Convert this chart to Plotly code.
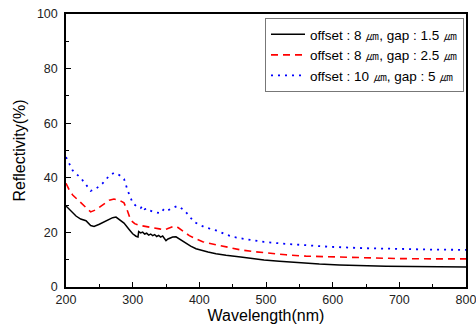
import plotly.graph_objects as go

wl_black = [200,205,210,215,222,230,237,242,250,260,270,275,280,287,295,300,305,308,309,312,315,318,321,324,327,330,333,336,339,342,345,348,350,353,356,360,365,370,375,380,387,395,405,413,425,440,462,480,497,520,548,580,610,647,680,720,760,800]
r_black = [29.7,28.5,27.2,26.0,24.9,24.3,22.5,22.2,23.0,24.2,25.4,25.6,24.8,23.4,21.0,19.5,18.6,18.3,20.3,19.8,20.1,19.4,19.7,19.0,19.4,18.8,19.2,18.5,18.9,18.3,18.7,17.4,17.0,17.6,17.9,18.3,18.4,17.6,16.8,16.0,15.0,14.0,13.2,12.8,12.2,11.6,11.0,10.4,9.9,9.4,8.9,8.4,8.1,7.8,7.6,7.5,7.4,7.3]

wl_red = [200,205,210,220,230,237,245,255,265,272,280,287,292,297,303,308,315,322,330,340,347,352,358,362,368,377,385,395,405,413,430,447,462,480,497,530,560,597,640,700,750,800]
r_red = [38.0,35.5,33.7,31.5,29.0,27.5,28.3,30.0,31.8,32.2,31.8,30.8,28.0,24.5,23.2,22.7,22.3,22.0,21.7,21.3,20.9,21.3,22.0,22.3,21.8,20.1,18.8,17.6,16.6,16.1,15.2,14.2,13.6,13.0,12.5,11.8,11.3,11.0,10.7,10.4,10.3,10.3]

wl_blue = [200,205,210,215,222,230,237,245,255,265,272,280,287,293,300,306,312,315,318,322,326,332,337,342,347,352,357,362,367,372,377,385,392,400,407,418,428,440,452,470,497,530,560,597,650,698,750,800]
r_blue = [47.6,45.0,42.7,41.5,40.0,37.5,35.2,36.0,38.0,40.8,41.8,41.0,39.6,35.0,30.8,29.5,28.9,29.8,28.5,28.8,28.0,27.5,27.2,27.0,28.6,28.0,28.6,29.3,29.7,29.0,28.2,26.0,23.8,22.9,22.0,21.2,20.5,19.2,18.3,17.5,16.5,15.8,15.2,14.7,14.2,13.9,13.7,13.6]

names = ["offset : 8 \u339b, gap : 1.5 \u339b",
         "offset : 8 \u339b, gap : 2.5 \u339b",
         "offset : 10 \u339b, gap : 5 \u339b"]

FONT = "Liberation Sans, Arial"

fig = go.Figure()
fig.add_trace(go.Scatter(x=wl_black, y=r_black, mode="lines", name=names[0],
                         line=dict(color="black", width=1.5)))
fig.add_trace(go.Scatter(x=wl_red, y=r_red, mode="lines", name=names[1],
                         line=dict(color="red", width=1.6, dash="7px,5px")))
fig.add_trace(go.Scatter(x=wl_blue, y=r_blue, mode="lines", name=names[2],
                         line=dict(color="blue", width=1.8, dash="2px,5px")))

axis_common = dict(showline=True, linecolor="black", linewidth=1.5, mirror=True,
                   ticks="inside", ticklen=5, tickwidth=1.2, tickcolor="black",
                   showgrid=False, zeroline=False, automargin=False,
                   ticklabeloverflow="allow",
                   tickfont=dict(family=FONT, size=12.5, color="#222"))

fig.update_xaxes(range=[200, 800], dtick=100, ticklabelstandoff=0,
                 minor=dict(dtick=50, ticks="inside", ticklen=3, tickcolor="black"),
                 title=dict(text="Wavelength(nm)", font=dict(family=FONT, size=16, color="black"), standoff=0),
                 **axis_common)
fig.update_yaxes(range=[0, 100], dtick=20, ticklabelstandoff=4,
                 minor=dict(dtick=10, ticks="inside", ticklen=3, tickcolor="black"),
                 title=dict(text="Reflectivity(%)", font=dict(family=FONT, size=16, color="black"), standoff=7),
                 **axis_common)

fig.update_layout(
    width=476, height=329,
    margin=dict(l=66, r=10, t=14, b=42),
    plot_bgcolor="white", paper_bgcolor="white",
    font=dict(family=FONT, color="black"),
    legend=dict(x=0.4975, y=0.985, xanchor="left", yanchor="top",
                bordercolor="#777", borderwidth=1, bgcolor="white",
                font=dict(family=FONT, size=13.5, color="black"),
                tracegroupgap=0, itemwidth=34),
    showlegend=True,
)

fig.write_html("out.html", config={"displayModeBar": False},
               post_script="document.body.style.margin='0';document.body.style.padding='0';")
